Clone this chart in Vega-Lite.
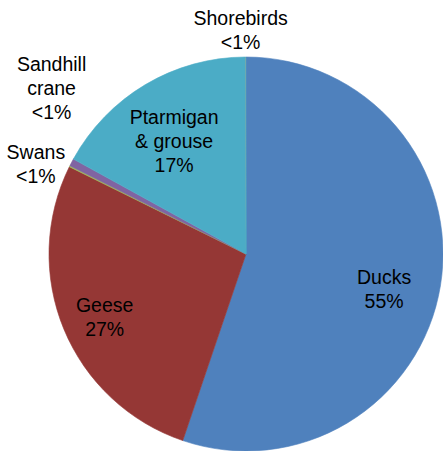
{
  "$schema": "https://vega.github.io/schema/vega-lite/v6.json",
  "width": 394,
  "height": 394,
  "autosize": {"type": "none"},
  "padding": {"left": 49, "top": 57, "right": 0, "bottom": 0},
  "background": "white",
  "data": {
    "values": [
      {"seq": 1, "bird": "Ducks", "share": 55.2, "label": "Ducks\n55%"},
      {"seq": 2, "bird": "Geese", "share": 27.1, "label": "Geese\n27%"},
      {"seq": 3, "bird": "Swans", "share": 0.1, "label": "Swans\n<1%"},
      {"seq": 4, "bird": "Sandhill crane", "share": 0.6, "label": "Sandhill\ncrane\n<1%"},
      {"seq": 5, "bird": "Ptarmigan & grouse", "share": 16.95, "label": "Ptarmigan\n& grouse\n17%"},
      {"seq": 6, "bird": "Shorebirds", "share": 0.05, "label": "Shorebirds\n<1%"}
    ]
  },
  "encoding": {
    "theta": {"field": "share", "type": "quantitative", "stack": true},
    "order": {"field": "seq", "type": "quantitative"}
  },
  "layer": [
    {
      "mark": {"type": "arc", "outerRadius": 197, "strokeWidth": 0.6},
      "encoding": {
        "color": {
          "field": "bird",
          "type": "nominal",
          "legend": null,
          "scale": {
            "domain": ["Ducks", "Geese", "Swans", "Sandhill crane", "Ptarmigan & grouse", "Shorebirds"],
            "range": ["#4F81BD", "#953735", "#9BBB59", "#8064A2", "#4BACC6", "#F79646"]
          }
        },
        "stroke": {
          "field": "bird",
          "type": "nominal",
          "legend": null,
          "scale": {
            "domain": ["Ducks", "Geese", "Swans", "Sandhill crane", "Ptarmigan & grouse", "Shorebirds"],
            "range": ["#4F81BD", "#953735", "#9BBB59", "#8064A2", "#4BACC6", "#4BACC6"]
          }
        }
      }
    },
    {
      "mark": {"type": "text", "radius": 140, "dy": 1, "font": "Liberation Sans", "fontSize": 19.5, "lineHeight": 24, "lineBreak": "\n", "color": "black"},
      "encoding": {
        "detail": {"field": "bird"},
        "text": {"condition": {"test": "datum.bird === 'Ducks'", "field": "label"}, "value": ""}
      }
    },
    {
      "mark": {"type": "text", "radius": 153, "dy": -7, "font": "Liberation Sans", "fontSize": 19.5, "lineHeight": 24, "lineBreak": "\n", "color": "black"},
      "encoding": {
        "detail": {"field": "bird"},
        "text": {"condition": {"test": "datum.bird === 'Geese'", "field": "label"}, "value": ""}
      }
    },
    {
      "mark": {"type": "text", "radius": 133, "dx": -4, "dy": -22, "font": "Liberation Sans", "fontSize": 19.5, "lineHeight": 24, "lineBreak": "\n", "color": "black"},
      "encoding": {
        "detail": {"field": "bird"},
        "text": {"condition": {"test": "datum.bird === 'Ptarmigan & grouse'", "field": "label"}, "value": ""}
      }
    },
    {
      "mark": {"type": "text", "radius": 223, "dx": -5, "dy": -12, "font": "Liberation Sans", "fontSize": 19.5, "lineHeight": 24, "lineBreak": "\n", "color": "black"},
      "encoding": {
        "detail": {"field": "bird"},
        "text": {"condition": {"test": "datum.bird === 'Shorebirds'", "field": "label"}, "value": ""}
      }
    },
    {
      "mark": {"type": "text", "radius": 249, "dx": 26, "dy": -73, "font": "Liberation Sans", "fontSize": 19.5, "lineHeight": 24, "lineBreak": "\n", "color": "black"},
      "encoding": {
        "detail": {"field": "bird"},
        "text": {"condition": {"test": "datum.bird === 'Sandhill crane'", "field": "label"}, "value": ""}
      }
    },
    {
      "mark": {"type": "text", "radius": 228, "dx": -6, "dy": 1, "font": "Liberation Sans", "fontSize": 19.5, "lineHeight": 24, "lineBreak": "\n", "color": "black"},
      "encoding": {
        "detail": {"field": "bird"},
        "text": {"condition": {"test": "datum.bird === 'Swans'", "field": "label"}, "value": ""}
      }
    }
  ],
  "config": {"view": {"stroke": null}}
}
